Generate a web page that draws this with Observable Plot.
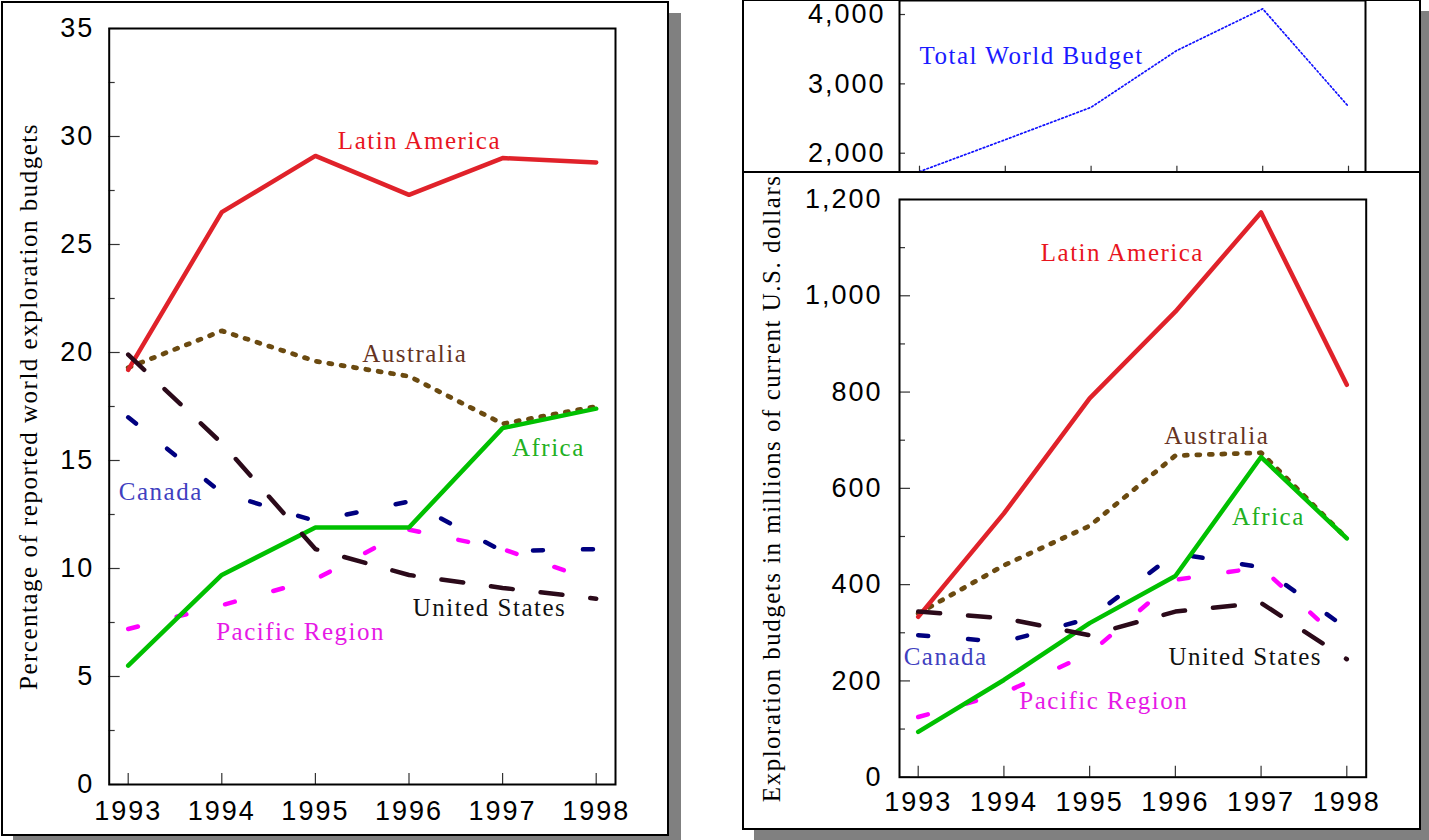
<!DOCTYPE html>
<html>
<head>
<meta charset="utf-8">
<script src="https://cdn.jsdelivr.net/npm/d3@7"></script>
<script src="https://cdn.jsdelivr.net/npm/@observablehq/plot@0.6"></script>
<style>
html,body{margin:0;padding:0;background:#fff;}
body{width:1429px;height:840px;overflow:hidden;position:relative;}
.frame{position:absolute;box-sizing:border-box;border:2px solid #000;background:#fff;box-shadow:12px 12px 0 #808080;}
.layer{position:absolute;left:0;top:0;}
g[aria-label$="tick label"] text{letter-spacing:2px;}
g[aria-label="text"] text{letter-spacing:1.5px;}
</style>
</head>
<body>
<div class="frame" style="left:1px;top:1px;width:668px;height:835px"></div>
<div id="cL" class="layer"></div>
<div class="frame" style="left:742px;top:-1px;width:679px;height:175px"></div>
<div id="cT" class="layer"></div>
<div class="frame" style="left:742px;top:171px;width:679px;height:659px"></div>
<div id="cB" class="layer"></div>
<script>
// ---------- data ----------
const years = [1993, 1994, 1995, 1996, 1997, 1998];

// Percentage of reported world exploration budgets
const pctLatinAmerica = [19.2, 26.5, 29.1, 27.3, 29.0, 28.8];
const pctAustralia    = [19.3, 21.0, 19.6, 18.9, 16.7, 17.5];
const pctAfrica       = [5.5, 9.7, 11.9, 11.9, 16.5, 17.4];
const pctCanada       = [17.0, 13.5, 12.2, 13.1, 10.8, 10.9];
const pctUnitedStates = [19.9, 15.8, 10.9, 9.7, 9.1, 8.6];
const pctPacific      = [7.2, 8.3, 9.5, 11.8, 10.9, 9.4];

// Exploration budgets, millions of current US dollars
const usdLatinAmerica = [333, 548, 787, 967, 1173, 815];
const usdAustralia    = [340, 440, 522, 668, 674, 496];
const usdAfrica       = [94, 202, 320, 418, 665, 496];
const usdCanada       = [295, 281, 330, 465, 436, 309];
const usdUnitedStates = [344, 330, 295, 344, 362, 245];
const usdPacific      = [125, 175, 257, 410, 436, 272];
const usdTotalWorld   = [1735, 2195, 2662, 3482, 4082, 2673];

// tick values
const pctMajorTicks = [0, 5, 10, 15, 20, 25, 30, 35];
const pctMinorTicks = [2.5, 7.5, 12.5, 17.5, 22.5, 27.5, 32.5];
const usdMajorTicks = [0, 200, 400, 600, 800, 1000, 1200];
const usdMinorTicks = [100, 300, 500, 700, 900, 1100];
const totalTicks    = [2000, 3000, 4000];

// series names and label anchors (in data units)
const seriesNames = ["Latin America", "Australia", "Africa", "Canada", "United States", "Pacific Region"];
const pctLabelYear  = [1995.24, 1995.50, 1997.10, 1992.90, 1996.04, 1993.94];
const pctLabelValue = [29.8, 19.95, 15.56, 13.56, 8.19, 7.08];
const usdLabelYear  = [1994.43, 1995.87, 1996.66, 1992.83, 1995.92, 1994.18];
const usdLabelValue = [1088, 708, 540, 249, 249, 159];
const totalLabel = {name: "Total World Budget", year: 1993.0, value: 3409};

(function () {
// ---------- styles ----------
const SANS = "'Liberation Sans', Arial, Helvetica, sans-serif";
const SERIF = "'Liberation Serif', 'Times New Roman', Times, serif";
const W = 1429, H = 840;
const lineStyle = {
  "Latin America":  {stroke: "#e0222a", strokeWidth: 4.5},
  "Australia":      {stroke: "#6b4a10", strokeWidth: 4.8, strokeDasharray: "3,9.5"},
  "Africa":         {stroke: "#00c000", strokeWidth: 4.5},
  "Canada":         {stroke: "#000080", strokeWidth: 4.5, strokeDasharray: "10,40"},
  "United States":  {stroke: "#2b0a1a", strokeWidth: 4.5, strokeDasharray: "22,28"},
  "Pacific Region": {stroke: "#ff00ff", strokeWidth: 4.5, strokeDasharray: "10,40"}
};
const labelColor = {
  "Latin America": "#e8141e", "Australia": "#663322", "Africa": "#22b022",
  "Canada": "#4040c0", "United States": "#111111", "Pacific Region": "#e619e6"
};
const drawOrder = ["Australia", "Latin America", "Pacific Region", "Canada", "Africa", "United States"];

const rows = arr => years.map((year, i) => ({year, value: arr[i]}));
const pctSeries = {
  "Latin America": pctLatinAmerica, "Australia": pctAustralia, "Africa": pctAfrica,
  "Canada": pctCanada, "United States": pctUnitedStates, "Pacific Region": pctPacific
};
const usdSeries = {
  "Latin America": usdLatinAmerica, "Australia": usdAustralia, "Africa": usdAfrica,
  "Canada": usdCanada, "United States": usdUnitedStates, "Pacific Region": usdPacific
};

function seriesLines(series) {
  return drawOrder.map(name => Plot.line(rows(series[name]), {
    x: "year", y: "value", strokeLinecap: "round", strokeLinejoin: "round", ...lineStyle[name]
  }));
}
function seriesLabels(lx, ly) {
  return seriesNames.map((name, i) => Plot.text([{name, year: lx[i], value: ly[i]}], {
    x: "year", y: "value", text: "name", textAnchor: "start",
    fontSize: 25, fontFamily: SERIF, fill: labelColor[name]
  }));
}
const tickLabelStyle = {fontSize: 27, fontFamily: SANS, fill: "#000", label: null};
const tickMarkStyle = {stroke: "#333", strokeWidth: 1.2, fill: "none", label: null};

// ---------- left chart: percentages ----------
const leftChart = Plot.plot({
  width: W, height: H,
  marginLeft: 108.7, marginRight: W - 615, marginTop: 28, marginBottom: H - 784,
  style: "background: transparent; overflow: visible;",
  x: {type: "linear", domain: [1993, 1998], range: [127.7, 595.7], label: null},
  y: {domain: [0, 35], label: null},
  marks: [
    Plot.axisX(years, {anchor: "bottom", tickSize: 11, dy: -11, ...tickMarkStyle}),
    Plot.axisX(years, {anchor: "bottom", tickSize: 0, tickPadding: 16, tickFormat: d => String(d), ...tickLabelStyle}),
    Plot.axisY(pctMajorTicks, {anchor: "left", tickSize: 11, dx: 11, ...tickMarkStyle}),
    Plot.axisY(pctMinorTicks, {anchor: "left", tickSize: 6, dx: 6, ...tickMarkStyle}),
    Plot.axisY(pctMajorTicks, {anchor: "left", tickSize: 0, tickPadding: 15, tickFormat: d => String(d), ...tickLabelStyle}),
    ...seriesLines(pctSeries),
    ...seriesLabels(pctLabelYear, pctLabelValue),
    Plot.text(["Percentage of reported world exploration budgets"], {
      frameAnchor: "left", textAnchor: "middle", rotate: -90, dx: -80, text: d => d,
      fontSize: 25, fontFamily: SERIF, fill: "#000"
    }),
    Plot.frame({stroke: "#000", strokeWidth: 2})
  ]
});
document.getElementById("cL").appendChild(leftChart);

// ---------- top right: total world budget ----------
const topChart = Plot.plot({
  width: W, height: H,
  marginLeft: 899, marginRight: W - 1365, marginTop: 0, marginBottom: H - 172.7,
  style: "background: transparent; overflow: visible;",
  x: {type: "linear", domain: [1993, 1998], range: [919, 1348], label: null},
  y: {domain: [1712, 4202], label: null},
  marks: [
    Plot.axisX(years, {anchor: "bottom", tickSize: 7, dy: -7, ...tickMarkStyle}),
    Plot.axisY(totalTicks, {anchor: "left", tickSize: 6, dx: 6, ...tickMarkStyle}),
    Plot.axisY(totalTicks, {anchor: "left", tickSize: 0, tickPadding: 14, tickFormat: d3.format(","), ...tickLabelStyle}),
    Plot.line(rows(usdTotalWorld), {x: "year", y: "value", stroke: "#1010ff", strokeWidth: 1.7, strokeDasharray: "1.6,2.4"}),
    Plot.text([totalLabel], {x: "year", y: "value", text: "name", textAnchor: "start",
      fontSize: 25, fontFamily: SERIF, fill: "#1a1aff"}),
    Plot.frame({stroke: "#000", strokeWidth: 2})
  ]
});
document.getElementById("cT").appendChild(topChart);

// ---------- bottom right: budgets in millions ----------
const bottomChart = Plot.plot({
  width: W, height: H,
  marginLeft: 899, marginRight: W - 1365.7, marginTop: 199, marginBottom: H - 776.7,
  style: "background: transparent; overflow: visible;",
  x: {type: "linear", domain: [1993, 1998], range: [917.7, 1346.3], label: null},
  y: {domain: [0, 1200], label: null},
  marks: [
    Plot.axisX(years, {anchor: "bottom", tickSize: 11, dy: -11, ...tickMarkStyle}),
    Plot.axisX(years, {anchor: "bottom", tickSize: 0, tickPadding: 15, tickFormat: d => String(d), ...tickLabelStyle}),
    Plot.axisY(usdMajorTicks, {anchor: "left", tickSize: 11, dx: 11, ...tickMarkStyle}),
    Plot.axisY(usdMinorTicks, {anchor: "left", tickSize: 6, dx: 6, ...tickMarkStyle}),
    Plot.axisY(usdMajorTicks, {anchor: "left", tickSize: 0, tickPadding: 17, tickFormat: d3.format(","), ...tickLabelStyle}),
    ...seriesLines(usdSeries),
    ...seriesLabels(usdLabelYear, usdLabelValue),
    Plot.text(["Exploration budgets in millions of current U.S. dollars"], {
      frameAnchor: "left", textAnchor: "middle", rotate: -90, dx: -128, text: d => d,
      fontSize: 25, fontFamily: SERIF, fill: "#000"
    }),
    Plot.frame({stroke: "#000", strokeWidth: 2})
  ]
});
document.getElementById("cB").appendChild(bottomChart);
})();
</script>
</body>
</html>
